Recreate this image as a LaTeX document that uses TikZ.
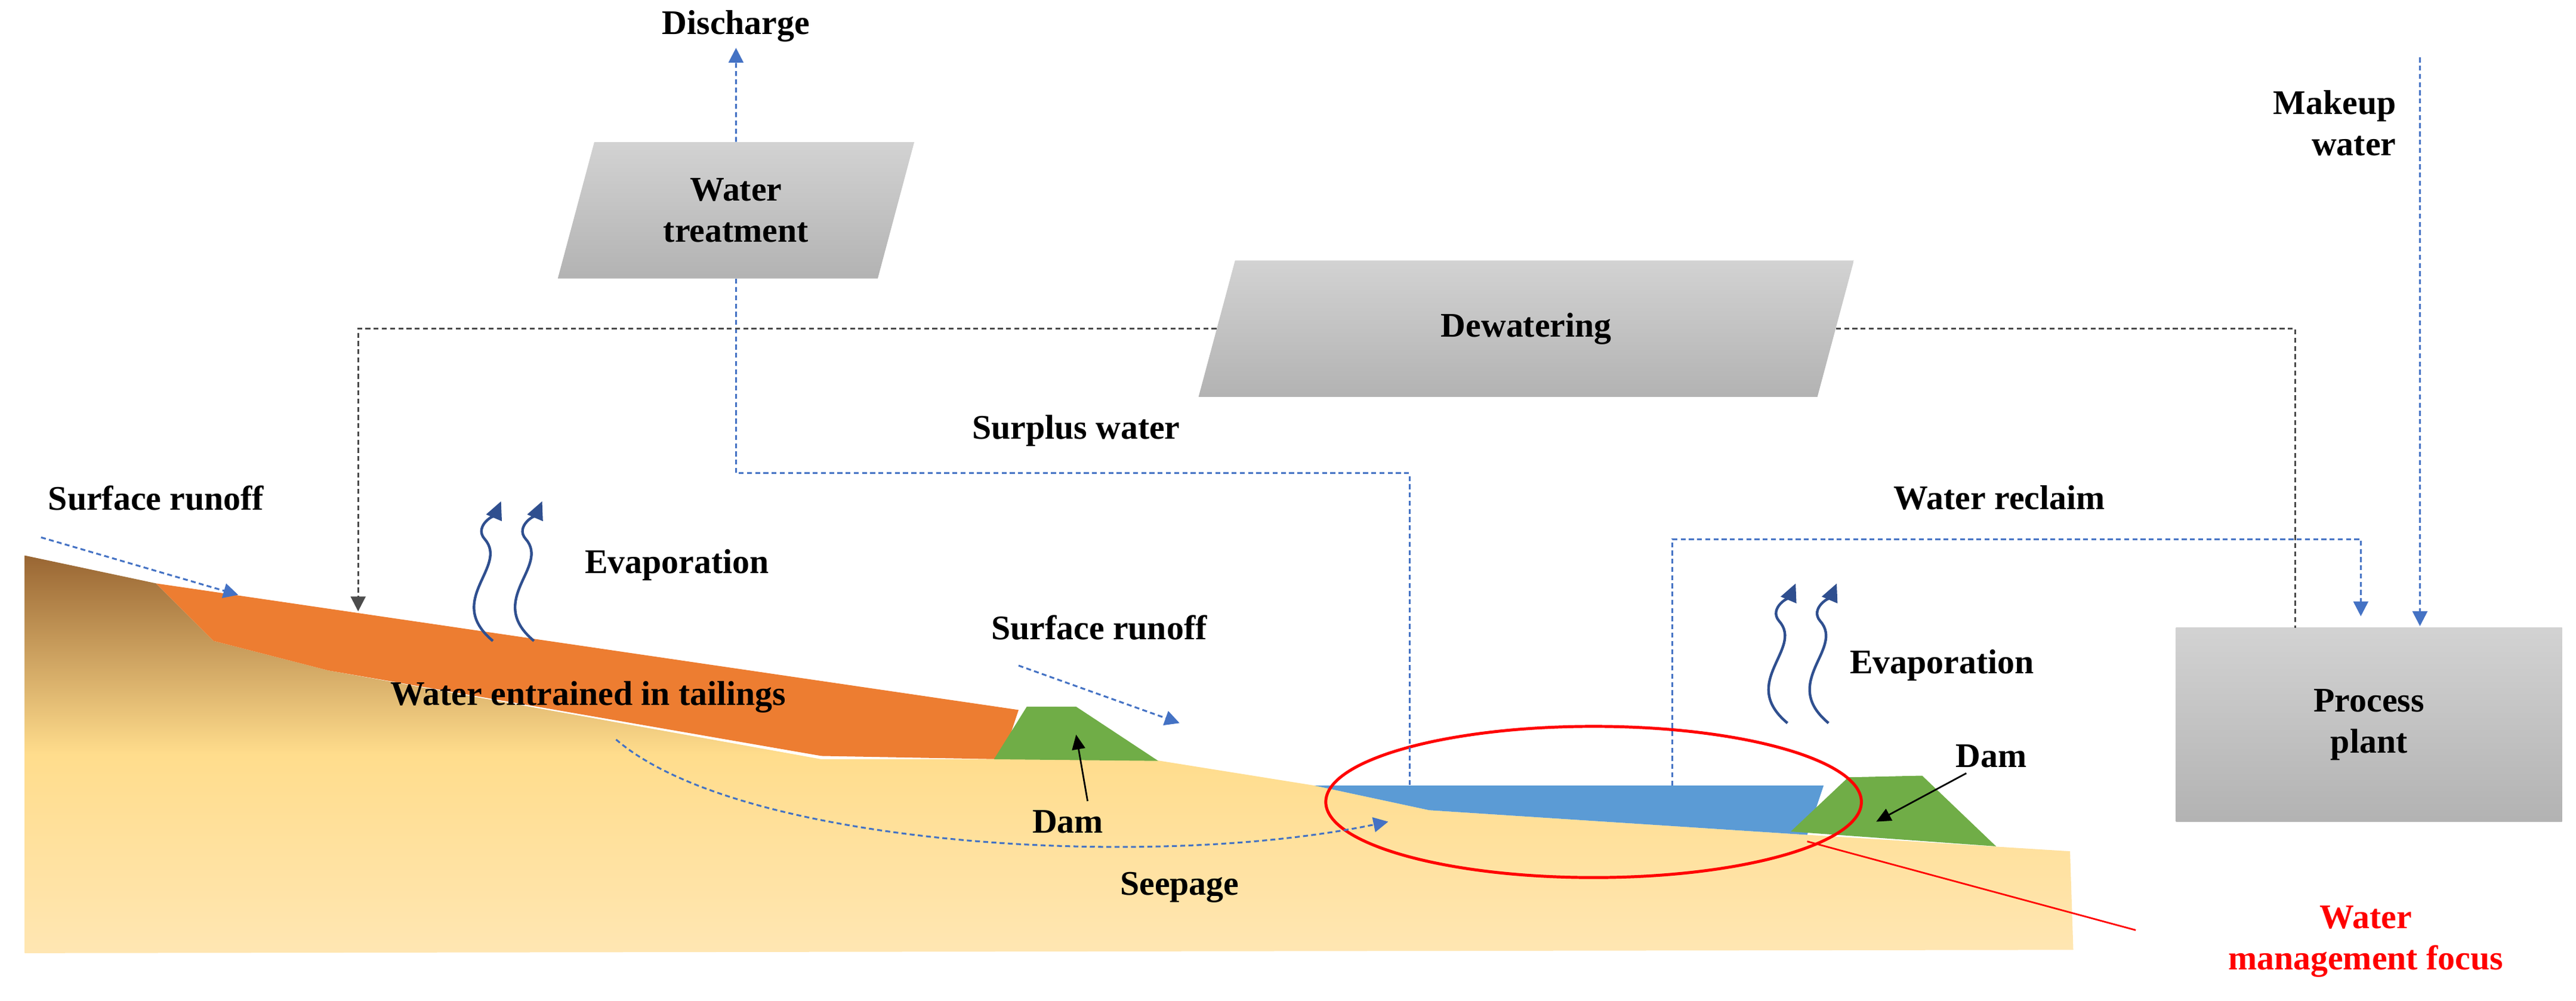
\documentclass[tikz,border=0pt]{standalone}
\usepackage{fontspec}
\setmainfont{Liberation Serif}
\usetikzlibrary{shapes.geometric,arrows.meta}
\definecolor{dblue}{HTML}{4472C4}
\definecolor{evap}{HTML}{2F4F8F}
\definecolor{ggreen}{HTML}{70AD47}
\definecolor{orng}{HTML}{ED7D31}
\definecolor{wblue}{HTML}{5B9BD5}
\begin{document}
\begin{tikzpicture}[x=1pt,y=-1pt,
  lbl/.style={font=\fontsize{21}{25}\selectfont\bfseries, align=center},
  flow/.style={dblue, densely dashed, line width=1.1pt},
  flowa/.style={flow, -{Triangle[length=9pt,width=9pt]}},
  box/.style={draw=none, top color=gray!35, bottom color=gray!60, lbl, minimum width=210pt},
  para/.style={box, trapezium, trapezium left angle=75, trapezium right angle=105, minimum height=83pt},
  evapa/.style={evap, line width=1.6pt, -{Triangle[length=11pt,width=10pt]}}]
\useasboundingbox (0,0) rectangle (1568,609);
% ground
\shade[top color=brown!80!black, bottom color=yellow!35!orange!30, middle color=yellow!40!orange!45]
 (15,338) -- (95,355) -- (130,390) -- (200,408) -- (500,462) -- (700,462) -- (800,478) -- (870,493) -- (1100,508) -- (1260,518) -- (1262,578) -- (15,580) -- cycle;
\fill[orng] (95,355) -- (620,432) -- (610,462) -- (500,460) -- (200,408) -- (130,390) -- cycle;
\fill[ggreen] (605,462) -- (625,430) -- (655,430) -- (705,463) -- cycle;
\fill[wblue] (800,478) -- (1110,478) -- (1100,508) -- (870,493) -- cycle;
\fill[ggreen] (1090,506) -- (1125,473) -- (1170,472) -- (1215,515) -- cycle;
% red focus
\draw[red, line width=1.8pt] (970,488) ellipse [x radius=163, y radius=46];
\coordinate (fe) at (1100,512);
\node[lbl, text=red] (focus) at (1440,573) {Water\\management focus};
\draw[red, line width=1pt] (fe) -- (1300,566);
% boxes
\node[para] (wt) at (448,128) {Water\\treatment};
\node[para] (dw) at (929,200) {Dewatering};
\node[box, minimum width=235pt, minimum height=118pt] (pp) at (1442,441) {Process\\plant};
% labels
\node[lbl] (dis) at (448,16) {Discharge};
\node[lbl] (sw) at (655,262) {Surplus water};
\node[lbl] (wr) at (1217,303) {Water reclaim};
\node[lbl, align=right, anchor=east] (mw) at (1462,75) {Makeup\\water};
\node[lbl] (sr1) at (95,303) {Surface runoff};
\node[lbl] (sr2) at (669,382) {Surface runoff};
\node[lbl] (ev1) at (412,344) {Evaporation};
\node[lbl] (ev2) at (1182,405) {Evaporation};
\node[lbl] (wet) at (358,424) {Water entrained in tailings};
\node[lbl] (see) at (718,540) {Seepage};
\node[lbl] (dam1) at (650,500) {Dam};
\node[lbl] (dam2) at (1212,460) {Dam};
% flows
\draw[flowa] (wt.north) -- (dis.south);
\coordinate (sw1) at (858,478);
\draw[flow] (wt.south) |- (858,288) -- (sw1);
\coordinate (tl) at (218,372);
\draw[flow, draw=gray!60!black, -{Triangle[length=9pt,width=9pt]}] (dw.west) -| (tl);
\draw[flow, draw=gray!60!black] (dw.east) -| (1397,382);
\coordinate (wr0) at (1018,478);
\draw[flowa] (wr0) |- (1437,328) -- (1437,375);
\coordinate (mw0) at (1473,35);
\draw[flowa] (mw0) -- (1473,381);
\coordinate (r1a) at (25,327); \coordinate (r1b) at (145,362);
\draw[flowa] (r1a) -- (r1b);
\coordinate (r2a) at (620,405); \coordinate (r2b) at (718,440);
\draw[flowa] (r2a) -- (r2b);
\coordinate (sp0) at (375,450); \coordinate (sp1) at (845,500);
\draw[flowa] (sp0) .. controls (450,515) and (700,530) .. (sp1);
% evaporation
\foreach \x/\y in {300/390,325/390,1088/440,1113/440}{
  \draw[evapa] (\x,\y) .. controls (\x-30,\y-25) and (\x+10,\y-45) .. (\x-5,\y-62) .. controls (\x-12,\y-70) and (\x+2,\y-78) .. (\x+5,\y-85);
}
% dam arrows
\draw[black, line width=1pt, -{Triangle[length=9pt,width=8pt]}] (dam1.north) ++(12,-2) -- (655,447);
\draw[black, line width=1pt, -{Triangle[length=9pt,width=8pt]}] (dam2.south west) ++(10,0) -- (1142,500);
\end{tikzpicture}
\end{document}
